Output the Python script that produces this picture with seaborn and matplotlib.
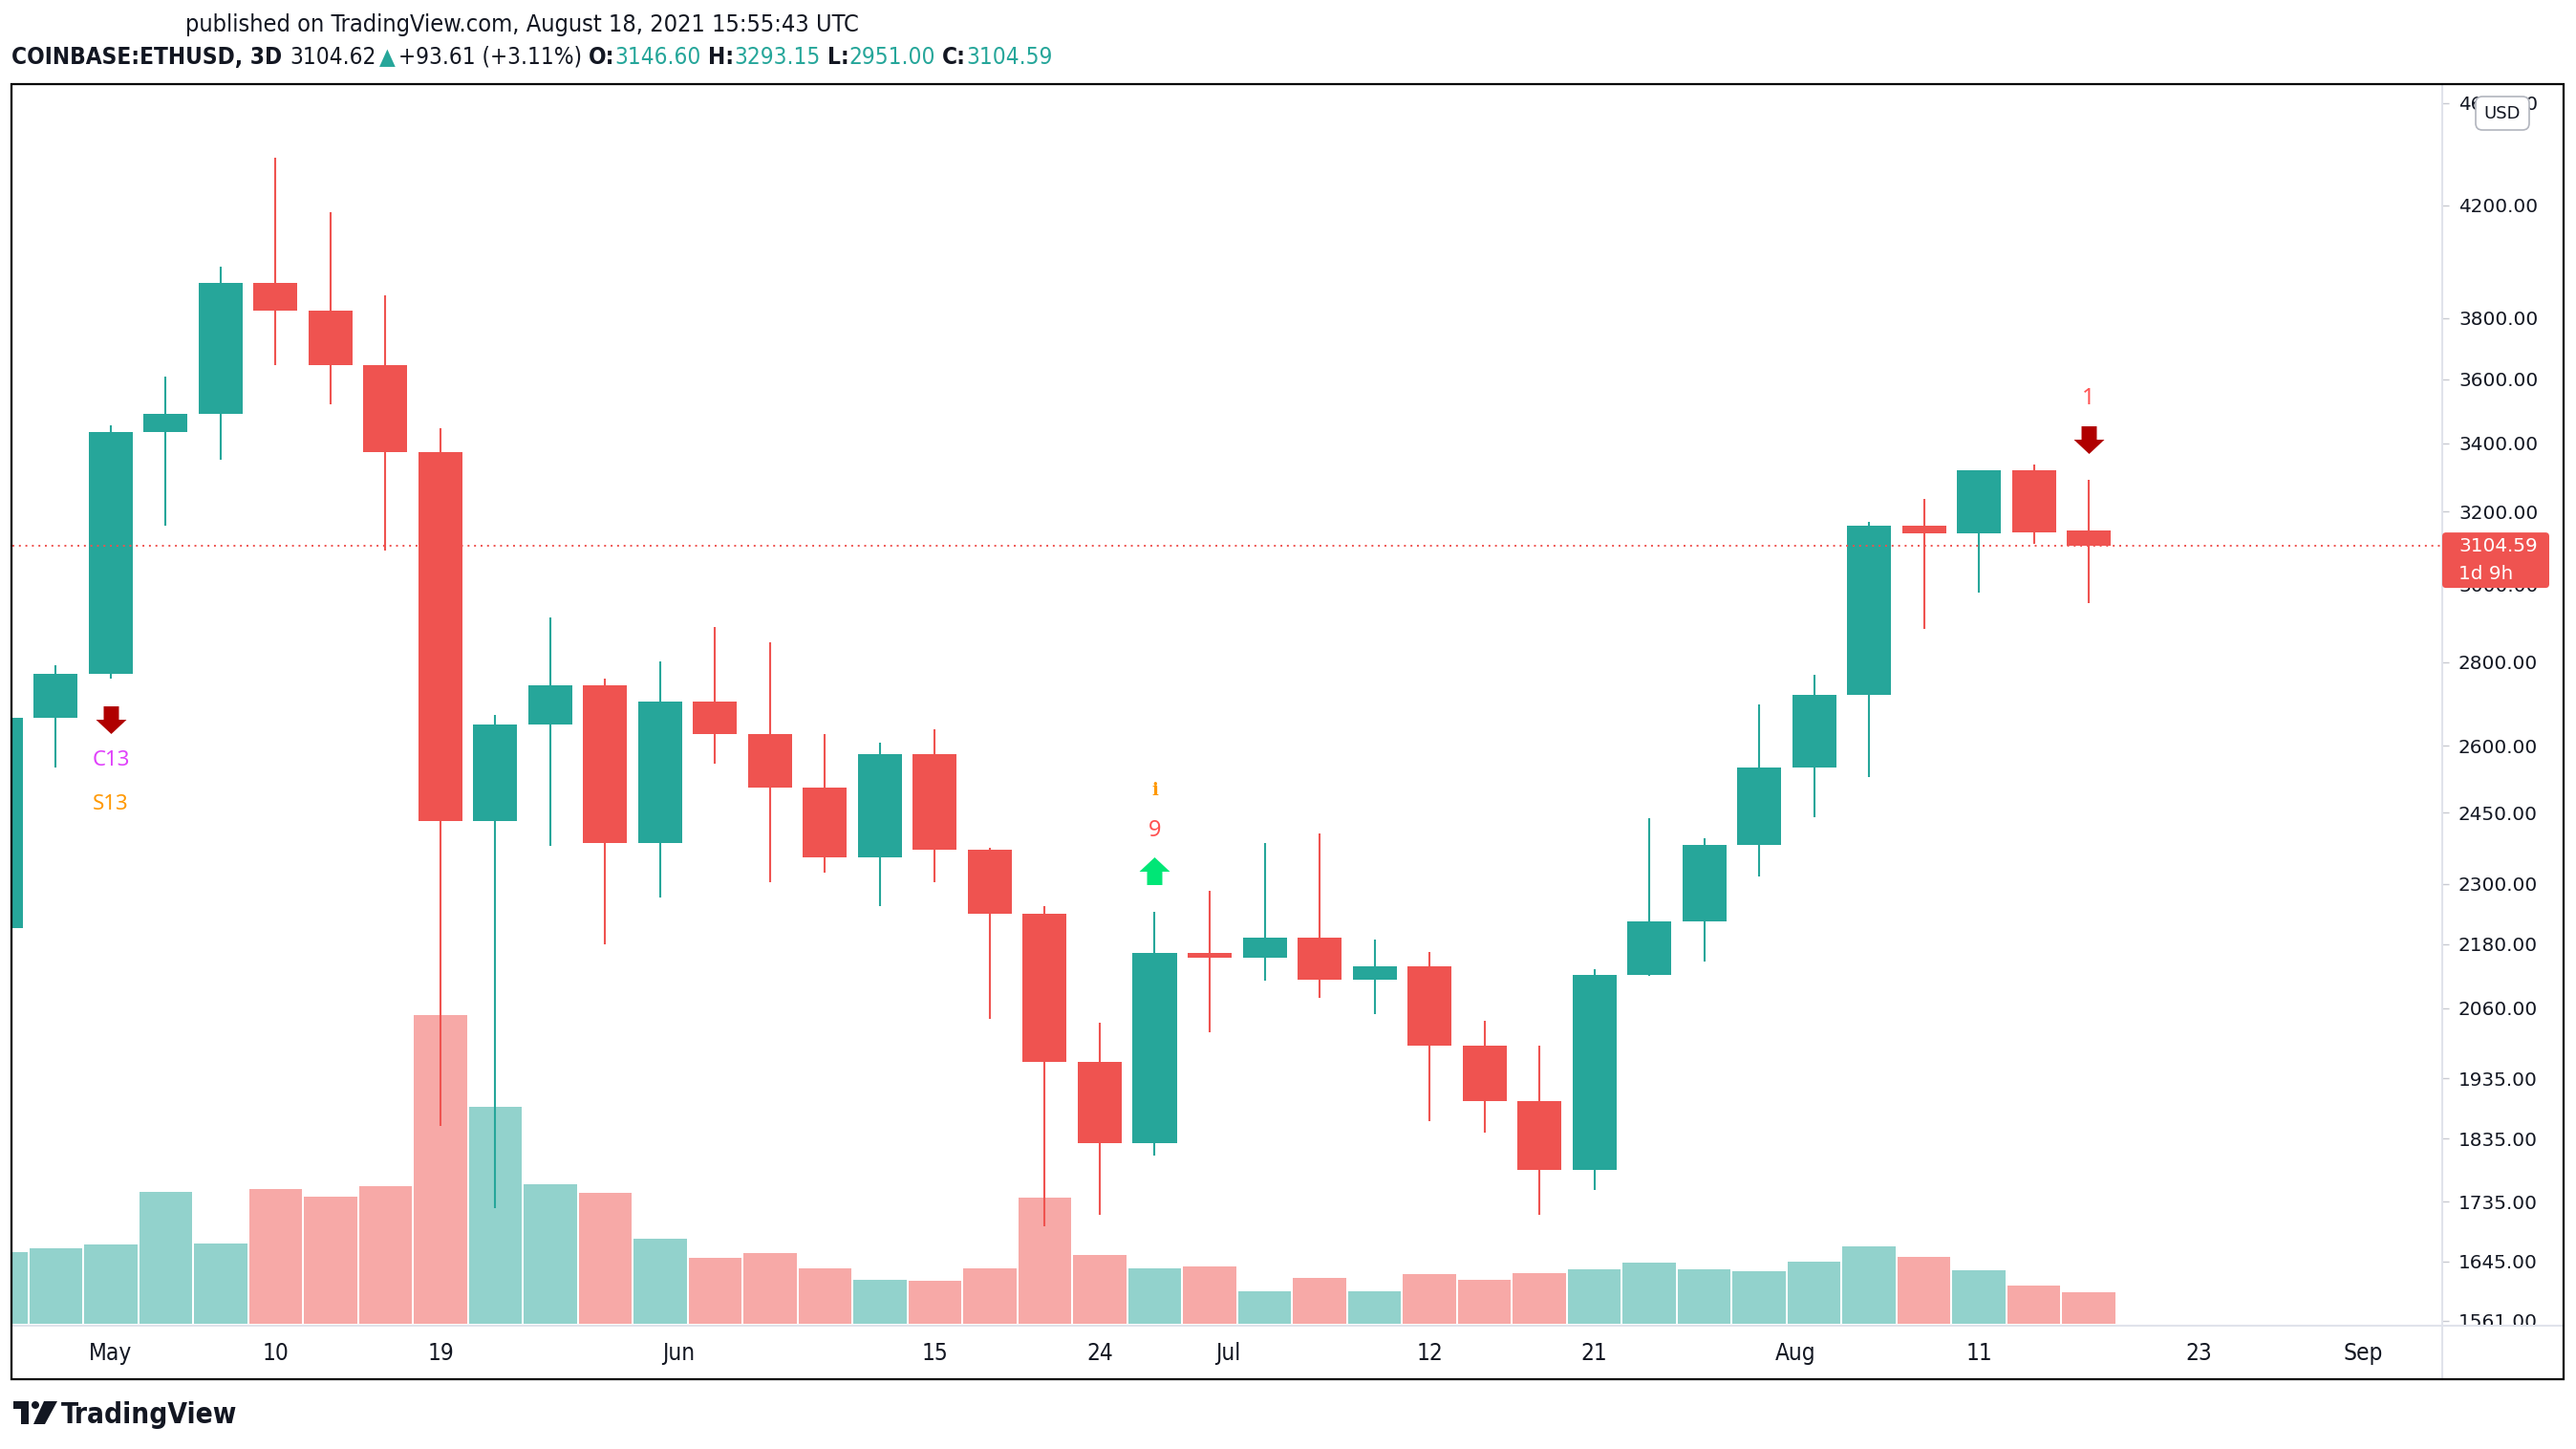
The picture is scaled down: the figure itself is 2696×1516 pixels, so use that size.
import numpy as np
import pandas as pd
import matplotlib
matplotlib.use("Agg")
import matplotlib.pyplot as plt
import matplotlib.dates as mdates
import matplotlib.transforms as mtransforms
from matplotlib.path import Path
from matplotlib.patches import Rectangle, FancyBboxPatch, Polygon, Circle
from matplotlib.lines import Line2D
from matplotlib.ticker import NullLocator, NullFormatter
import seaborn as sns

# ---------------- data (3-day candles, COINBASE:ETHUSD) ----------------
candle_dates = ["2021-04-25", "2021-04-28", "2021-05-01", "2021-05-04", "2021-05-07",
                "2021-05-10", "2021-05-13", "2021-05-16", "2021-05-19", "2021-05-22",
                "2021-05-25", "2021-05-28", "2021-05-31", "2021-06-03", "2021-06-06",
                "2021-06-09", "2021-06-12", "2021-06-15", "2021-06-18", "2021-06-21",
                "2021-06-24", "2021-06-27", "2021-06-30", "2021-07-03", "2021-07-06",
                "2021-07-09", "2021-07-12", "2021-07-15", "2021-07-18", "2021-07-21",
                "2021-07-24", "2021-07-27", "2021-07-30", "2021-08-02", "2021-08-05",
                "2021-08-08", "2021-08-11", "2021-08-14", "2021-08-17"]
opens = [2211, 2665, 2772, 3435, 3490, 3922, 3826, 3646, 3375, 2431,
         2650, 2744, 2385, 2705, 2626, 2506, 2354, 2581, 2371, 2240,
         1964, 1828, 2163, 2154, 2192, 2113, 2138, 1993, 1896, 1784,
         2122, 2224, 2381, 2551, 2720, 3161, 3139, 3321, 3146.60]
highs = [2680, 2793, 3455, 3609, 3979, 4381, 4175, 3876, 3445, 2673,
         2914, 2760, 2801, 2888, 2850, 2626, 2607, 2638, 2375, 2256,
         2034, 2243, 2286, 2385, 2406, 2189, 2166, 2037, 1993, 2132,
         2438, 2395, 2697, 2768, 3171, 3236, 3321, 3336, 3293.15]
lows = [2190, 2551, 2760, 3161, 3350, 3646, 3521, 3093, 1855, 1725,
        2378, 2179, 2273, 2558, 2303, 2323, 2256, 2303, 2040, 1698,
        1715, 1807, 2016, 2110, 2079, 2049, 1863, 1844, 1715, 1753,
        2119, 2147, 2316, 2441, 2528, 2884, 2978, 3111, 2951.00]
closes = [2665, 2772, 3435, 3490, 3922, 3826, 3646, 3375, 2431, 2650,
          2744, 2385, 2705, 2626, 2506, 2354, 2581, 2371, 2240, 1964,
          1828, 2163, 2154, 2192, 2113, 2138, 1993, 1896, 1784, 2122,
          2224, 2381, 2551, 2720, 3161, 3139, 3321, 3142, 3104.59]
volumes_k = [750, 790, 830, 1380, 840, 1410, 1330, 1440, 3230, 2270,
             1460, 1375, 890, 690, 740, 580, 460, 450, 580, 1320,
             720, 580, 600, 340, 480, 340, 520, 460, 530, 570,
             640, 570, 550, 650, 810, 700, 560, 400, 330]

price_ticks = [1561, 1645, 1735, 1835, 1935, 2060, 2180, 2300, 2450, 2600,
               2800, 3000, 3200, 3400, 3600, 3800, 4200, 4600]
time_tick_dates = ["2021-05-01", "2021-05-10", "2021-05-19", "2021-06-01", "2021-06-15",
                   "2021-06-24", "2021-07-01", "2021-07-12", "2021-07-21", "2021-08-01",
                   "2021-08-11", "2021-08-23", "2021-09-01"]
time_tick_labels = ["May", "10", "19", "Jun", "15", "24", "Jul", "12", "21", "Aug",
                    "11", "23", "Sep"]
last_price = 3104.59
last_price_label = "3104.59"
countdown_label = "1d 9h"

# signal annotations (candle index)
sig_down_below = 2     # May 1 candle: arrow + C13 / S13 below
sig_up_above = 21      # Jun 27 candle: green arrow + 9 + i above
sig_down_above = 38    # Aug 17 candle: arrow + 1 above

header1 = "published on TradingView.com, August 18, 2021 15:55:43 UTC"

# ---------------- style ----------------
sns.set_theme(style="white")
plt.rcParams['font.family'] = ['DejaVu Sans']
NARROW = ['Liberation Sans Narrow', 'DejaVu Sans']
GREEN = '#26a69a'
RED = '#ef5350'
VOL_UP = '#92d2cc'
VOL_DN = '#f7a9a7'
DARK = '#131722'
SEP = '#e0e3eb'
TICKC = '#c8cad1'

W, H = 2696, 1516
fig = plt.figure(figsize=(W / 100, H / 100), dpi=100)
fig.patch.set_facecolor('white')
renderer = fig.canvas.get_renderer()
IDT = mtransforms.IdentityTransform()


def P(x, y):
    return (x, H - y)


AX_L, AX_R, AX_T, AX_B = 13, 2556, 88, 1387
rect = [AX_L / W, 1 - AX_B / H, (AX_R - AX_L) / W, (AX_B - AX_T) / H]
axv = fig.add_axes(rect, zorder=1)
ax = fig.add_axes(rect, zorder=2)
ax.patch.set_visible(False)

xnum = mdates.date2num(pd.to_datetime(candle_dates))
o = np.array(opens, float)
h = np.array(highs, float)
l = np.array(lows, float)
c = np.array(closes, float)
up = c >= o
may1 = mdates.date2num(pd.Timestamp("2021-05-01"))
xlim = (may1 - 5.37, may1 + 127.3)

# ---------------- volume (seaborn) ----------------
df_vol = pd.DataFrame({"x": xnum, "volume": volumes_k,
                       "dir": np.where(up, "up", "down")})
sns.barplot(data=df_vol, x="x", y="volume", hue="dir",
            palette={"up": VOL_UP, "down": VOL_DN}, native_scale=True,
            width=0.965, dodge=False, saturation=1, errorbar=None,
            legend=False, ax=axv, linewidth=0)
axv.set_xlim(xlim)
vmax = max(volumes_k)
axv.set_ylim(-vmax * 2 / 323, vmax * 1297 / 323)
axv.axis('off')

# ---------------- candles ----------------
colors = np.where(up, GREEN, RED)
ax.set_yscale('log')
ax.vlines(xnum, l, h, colors=colors, lw=1.5, zorder=2)
lo = np.minimum(o, c)
hi = np.maximum(o, c)
ax.bar(xnum, hi - lo, bottom=lo, width=2.4, color=colors, linewidth=0, zorder=3)
ax.set_xlim(xlim)
ax.set_ylim(1554, 4677)

for s in ax.spines.values():
    s.set_visible(False)

ax.set_yticks(price_ticks)
ax.set_yticklabels([f"{v:.2f}" for v in price_ticks])
ax.yaxis.set_minor_locator(NullLocator())
ax.yaxis.set_minor_formatter(NullFormatter())
ax.yaxis.tick_right()
ax.tick_params(axis='y', which='major', direction='out', length=5, width=1,
               color=TICKC, pad=7.2, labelsize=14.4, labelcolor=DARK)

ax.set_xticks(mdates.date2num(pd.to_datetime(time_tick_dates)))
ax.set_xticklabels(time_tick_labels)
ax.xaxis.set_minor_locator(NullLocator())
ax.tick_params(axis='x', which='major', direction='out', length=6, width=1,
               color=TICKC, pad=5, labelsize=20, labelcolor=DARK)
for lbl in ax.get_xticklabels():
    lbl.set_fontfamily(NARROW)
    lbl.set_fontstretch('condensed')
# keep the time labels about as wide as in the reference ("May" ~45 px)
w_may = ax.get_xticklabels()[0].get_window_extent(renderer).width
if w_may > 48:
    newsize = 20 * 45 / w_may
    for lbl in ax.get_xticklabels():
        lbl.set_fontsize(newsize)
    ax.tick_params(axis='x', pad=5 + (20 - newsize) * 0.35)
ax.grid(False)

# last price line
ax.axhline(last_price, color=RED, lw=1.4, ls=(0, (1, 2.5)), zorder=4)

# ---------------- signal markers ----------------
down_arrow = Path([(-8, 14.5), (8, 14.5), (8, 0.5), (16, 0.5), (0, -14.5),
                   (-16, 0.5), (-8, 0.5), (-8, 14.5)],
                  [Path.MOVETO] + [Path.LINETO] * 6 + [Path.CLOSEPOLY])
up_arrow = Path([(x, -y) for x, y in down_arrow.vertices], down_arrow.codes)


def off(dy):
    return mtransforms.offset_copy(ax.transData, fig=fig, x=0, y=dy, units='dots')


ANN = ['Noto Sans', 'DejaVu Sans']
i = sig_down_below
ax.plot([xnum[i]], [l[i]], marker=down_arrow, markersize=23, color='#b00000',
        mew=0, ls='none', transform=off(-43), clip_on=False, zorder=6)
ax.text(xnum[i], l[i], "C13", transform=off(-86), ha='center', va='center',
        fontsize=16, color='#e040fb', family=ANN, zorder=6)
ax.text(xnum[i], l[i], "S13", transform=off(-132), ha='center', va='center',
        fontsize=16, color='#ff9800', family=ANN, zorder=6)

i = sig_up_above
ax.plot([xnum[i]], [h[i]], marker=up_arrow, markersize=23, color='#00e676',
        mew=0, ls='none', transform=off(43), clip_on=False, zorder=6)
ax.text(xnum[i], h[i], "9", transform=off(85), ha='center', va='center',
        fontsize=17, color='#ff5252', family=ANN, fontweight='bold', zorder=6)
ax.text(xnum[i], h[i], "i", transform=off(127), ha='center', va='center',
        fontsize=13, color='#ff9800', family=['DejaVu Serif'], fontweight='bold',
        zorder=6)

i = sig_down_above
ax.plot([xnum[i]], [h[i]], marker=down_arrow, markersize=23, color='#b00000',
        mew=0, ls='none', transform=off(42), clip_on=False, zorder=6)
ax.text(xnum[i], h[i], "1", transform=off(85), ha='center', va='center',
        fontsize=17, color='#ff5252', family=ANN, fontweight='bold', zorder=6)

# ---------------- figure-level furniture ----------------
# cover to clip the lowest price label inside the time-axis strip
fig.add_artist(Rectangle(P(2557, 1442), 125, 54, transform=IDT, facecolor='white',
                         edgecolor='none', zorder=5))
fig.add_artist(Line2D([AX_L, 2683], [H - AX_B, H - AX_B], transform=IDT, color=SEP,
                      lw=1.5, zorder=6))
fig.add_artist(Line2D([AX_R, AX_R], [H - 88, H - 1443], transform=IDT, color=SEP,
                      lw=1.5, zorder=6))

# last price box
ly = ax.transData.transform((xnum[0], last_price))[1]
fig.add_artist(FancyBboxPatch((AX_R, ly - 44), 112, 58,
                              boxstyle="round,pad=0,rounding_size=4", transform=IDT,
                              facecolor=RED, edgecolor='none', zorder=7))
fig.text(2573 / W, ly / H, last_price_label, fontsize=14.4, color='white',
         ha='left', va='center', zorder=8)
fig.text(2573 / W, (ly - 29) / H, countdown_label, fontsize=14.4, color='white',
         ha='left', va='center', zorder=8)

# USD button
fig.add_artist(FancyBboxPatch(P(2591, 136), 56, 35,
                              boxstyle="round,pad=0,rounding_size=7", transform=IDT,
                              facecolor='white', edgecolor='#b2b5be', lw=1.2, zorder=7))
fig.text(2619 / W, 1 - 119 / H, "USD", fontsize=13, color=DARK, ha='center',
         va='center', zorder=8)

# outer frame
fig.add_artist(Rectangle(P(12, 1443), 2671, 1355, transform=IDT, facecolor='none',
                         edgecolor='black', lw=1.6, zorder=10))


# ---------------- header / footer text ----------------
def seq_line(x0, y, pieces, total_width, family, base=20, stretch='condensed'):
    texts = [fig.text(0, 0, s, color=col, fontweight=wt, family=family,
                      fontstretch=stretch, va='baseline', ha='left', fontsize=base)
             for s, col, wt, g in pieces]

    def layout(size):
        x = x0
        for (s, col, wt, g), t in zip(pieces, texts):
            x += g * size * 100 / 72
            t.set_fontsize(size)
            t.set_position((x / W, 1 - y / H))
            x += t.get_window_extent(renderer).width
        return x - x0

    w = layout(base)
    layout(base * total_width / w)


seq_line(194, 33, [(header1, DARK, 'normal', 0)], 707, NARROW)
seq_line(12, 67, [("COINBASE:ETHUSD, 3D", DARK, 'bold', 0),
                  ("3104.62", DARK, 'normal', 0.35),
                  ("\u25B2", GREEN, 'normal', 0.12),
                  ("+93.61 (+3.11%)", DARK, 'normal', 0.12),
                  ("O:", DARK, 'bold', 0.3), ("3146.60", GREEN, 'normal', 0),
                  ("H:", DARK, 'bold', 0.3), ("3293.15", GREEN, 'normal', 0),
                  ("L:", DARK, 'bold', 0.3), ("2951.00", GREEN, 'normal', 0),
                  ("C:", DARK, 'bold', 0.3), ("3104.59", GREEN, 'normal', 0)],
         1083, NARROW)

# TradingView logo
fig.add_artist(Polygon([P(14, 1466), P(30, 1466), P(30, 1490), P(22, 1490),
                        P(22, 1474), P(14, 1474)], closed=True, transform=IDT,
                       facecolor=DARK, edgecolor='none', zorder=8))
fig.add_artist(Circle(P(37, 1470), 4, transform=IDT, facecolor=DARK,
                      edgecolor='none', zorder=8))
fig.add_artist(Polygon([P(46, 1466), P(60, 1466), P(47, 1490), P(35, 1490)],
                       closed=True, transform=IDT, facecolor=DARK,
                       edgecolor='none', zorder=8))
seq_line(64, 1489, [("TradingView", DARK, 'bold', 0)], 185, NARROW)

fig.savefig("out.png", dpi=100, facecolor='white')
